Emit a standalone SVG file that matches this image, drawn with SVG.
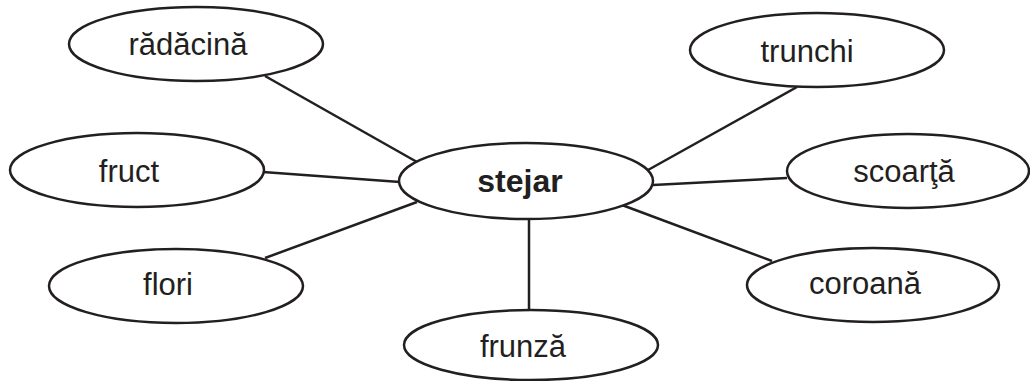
<svg xmlns="http://www.w3.org/2000/svg" width="1030" height="381" viewBox="0 0 1030 381">
<style>
.n ellipse{fill:#fff;stroke:#231f20;stroke-width:2.5}
text{font-family:"Liberation Sans",Arial,sans-serif;font-size:31px;fill:#231f20;text-anchor:middle}
.b{font-weight:bold;font-size:32px}
#connectors line{stroke:#231f20;stroke-width:2.5}
</style>
<rect width="1030" height="381" fill="#fff"/>
<g id="connectors">
<line x1="265" y1="76" x2="417" y2="162"/>
<line x1="263" y1="172" x2="400" y2="182"/>
<line x1="265" y1="258" x2="417" y2="202"/>
<line x1="529" y1="218" x2="529" y2="310"/>
<line x1="622" y1="205" x2="772" y2="261"/>
<line x1="797" y1="87" x2="648" y2="170"/>
<line x1="653" y1="185" x2="787" y2="178"/>
</g>
<g id="n-stejar" class="n"><ellipse cx="526" cy="181" rx="127" ry="38"/><text class="b" x="520" y="192">stejar</text></g>
<g id="n-radacina" class="n"><ellipse cx="196" cy="44" rx="127" ry="37"/><text x="188" y="55">rădăcină</text></g>
<g id="n-fruct" class="n"><ellipse cx="137" cy="170" rx="127" ry="37"/><text x="129" y="182">fruct</text></g>
<g id="n-flori" class="n"><ellipse cx="176" cy="286" rx="127" ry="37"/><text x="168" y="295">flori</text></g>
<g id="n-frunza" class="n"><ellipse cx="531" cy="345" rx="127" ry="35"/><text x="523" y="357">frunză</text></g>
<g id="n-coroana" class="n"><ellipse cx="873" cy="285" rx="126" ry="37"/><text x="865" y="294">coroană</text></g>
<g id="n-scoarta" class="n"><ellipse cx="908" cy="171" rx="121" ry="37"/><text x="904" y="182">scoarţă</text></g>
<g id="n-trunchi" class="n"><ellipse cx="817" cy="50" rx="127" ry="37"/><text x="807" y="62">trunchi</text></g>
</svg>
